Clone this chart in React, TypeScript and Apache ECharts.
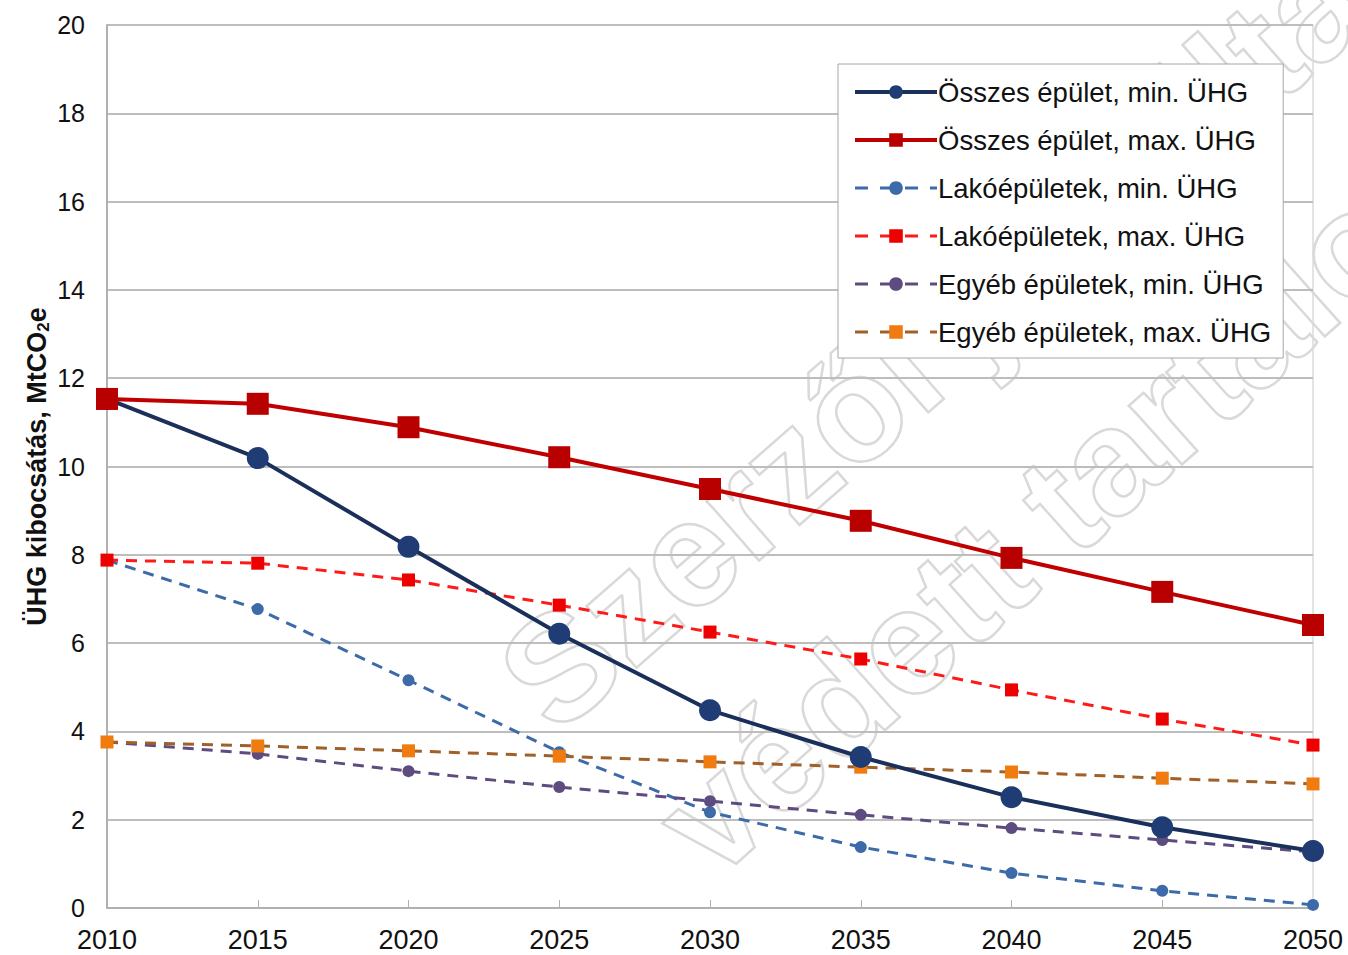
import React, { useEffect, useRef } from "react";
import * as echarts from "echarts";

const years = ["2010", "2015", "2020", "2025", "2030", "2035", "2040", "2045", "2050"];
const osszesMin = [11.53, 10.19, 8.18, 6.21, 4.48, 3.42, 2.51, 1.83, 1.29];
const osszesMax = [11.53, 11.42, 10.89, 10.21, 9.49, 8.77, 7.93, 7.16, 6.41];
const lakoMin = [7.88, 6.77, 5.16, 3.53, 2.17, 1.38, 0.79, 0.39, 0.07];
const lakoMax = [7.88, 7.81, 7.43, 6.86, 6.25, 5.64, 4.94, 4.28, 3.69];
const egyebMin = [3.76, 3.49, 3.1, 2.74, 2.42, 2.11, 1.81, 1.54, 1.27];
const egyebMax = [3.76, 3.67, 3.56, 3.44, 3.31, 3.19, 3.08, 2.94, 2.81];

const names = [
  "Összes épület, min. ÜHG",
  "Összes épület, max. ÜHG",
  "Lakóépületek, min. ÜHG",
  "Lakóépületek, max. ÜHG",
  "Egyéb épületek, min. ÜHG",
  "Egyéb épületek, max. ÜHG",
];

const FONT = "'Liberation Sans', Arial, sans-serif";

export default function App() {
  const ref = useRef<HTMLDivElement>(null);
  useEffect(() => {
    if (!ref.current) return;
    const chart = echarts.init(ref.current, null, { renderer: "svg" });
    const mk = (
      name: string,
      data: number[],
      lineColor: string,
      markColor: string,
      symbol: string,
      size: number,
      width: number,
      dashed: boolean
    ) => ({
      name,
      type: "line",
      data,
      symbol,
      symbolSize: size,
      showSymbol: true,
      lineStyle: { color: lineColor, width, type: dashed ? [11, 8] : "solid" },
      itemStyle: { color: markColor, borderWidth: 0 },
      z: dashed ? 2 : 3,
    });
    const wm = {
      fontSize: 150,
      fontWeight: "bold",
      fontFamily: FONT,
      fill: "rgba(0,0,0,0)",
      stroke: "#d9d9d9",
      lineWidth: 2.5,
      textVerticalAlign: "bottom",
    };
    chart.setOption({
      animation: false,
      backgroundColor: "#ffffff",
      textStyle: { fontFamily: FONT },
      grid: {
        left: 107,
        right: 35,
        top: 25,
        bottom: 47,
        show: true,
        borderColor: "#c8c8c8",
        borderWidth: 1,
      },
      graphic: [
        {
          type: "text",
          x: 572,
          y: 755,
          rotation: 0.72,
          z: 0,
          style: { ...wm, text: "Szerzői jog által" },
        },
        {
          type: "text",
          x: 730,
          y: 900,
          rotation: 0.73,
          z: 0,
          style: { ...wm, text: "védett tartalom" },
        },
      ],
      legend: {
        orient: "vertical",
        left: 838,
        top: 64,
        padding: [14, 12, 12, 15],
        itemGap: 20,
        itemWidth: 82,
        itemHeight: 17,
        backgroundColor: "#ffffff",
        borderColor: "#a6a6a6",
        borderWidth: 1,
        data: [
          { name: names[0], lineStyle: { width: 4 } },
          { name: names[1], lineStyle: { width: 4 } },
          { name: names[2], lineStyle: { width: 3, type: [13, 12] } },
          { name: names[3], lineStyle: { width: 3, type: [13, 12] } },
          { name: names[4], lineStyle: { width: 3, type: [13, 12] } },
          { name: names[5], lineStyle: { width: 3, type: [13, 12] } },
        ],
        textStyle: {
          fontSize: 27.5,
          lineHeight: 28,
          color: "#111",
          fontFamily: FONT,
          padding: [0, 0, 0, -4],
        },
      },
      xAxis: {
        type: "category",
        data: years,
        boundaryGap: false,
        axisLine: { lineStyle: { color: "#b0b0b0", width: 2 } },
        axisTick: { show: true, inside: true, length: 8, lineStyle: { color: "#b0b0b0" } },
        axisLabel: { fontSize: 27, color: "#111", margin: 18, fontFamily: FONT },
        splitLine: { show: false },
      },
      yAxis: {
        type: "value",
        min: 0,
        max: 20,
        interval: 2,
        name: "ÜHG kibocsátás, MtCO{sub|2}e",
        nameLocation: "middle",
        nameRotate: 90,
        nameGap: 55,
        nameMoveOverlap: false,
        nameTextStyle: {
          fontSize: 27,
          fontWeight: "bold",
          color: "#111",
          fontFamily: FONT,
          rich: {
            sub: { fontSize: 17, fontWeight: "bold", verticalAlign: "bottom", padding: [14, 0, 0, 0] },
          },
        },
        axisLine: { show: true, lineStyle: { color: "#b0b0b0", width: 2 } },
        axisTick: { show: false },
        axisLabel: { fontSize: 25, color: "#111", margin: 22, fontFamily: FONT },
        splitLine: { lineStyle: { color: "#bdbdbd", width: 2 } },
      },
      series: [
        mk(names[0], osszesMin, "#1a2f5a", "#1f3d74", "circle", 22, 4, false),
        mk(names[1], osszesMax, "#c00000", "#b80000", "rect", 22, 4, false),
        mk(names[2], lakoMin, "#3d6aa8", "#3d6aa8", "circle", 12, 3, true),
        mk(names[3], lakoMax, "#ff1a1a", "#ee0000", "rect", 13, 3, true),
        mk(names[4], egyebMin, "#5e4c80", "#5e4c80", "circle", 12, 3, true),
        mk(names[5], egyebMax, "#a0602a", "#f07c10", "rect", 13, 3, true),
      ],
    });
    return () => chart.dispose();
  }, []);
  return (
    <div
      ref={ref}
      style={{ position: "absolute", left: 0, top: 0, width: 1348, height: 955 }}
    />
  );
}
